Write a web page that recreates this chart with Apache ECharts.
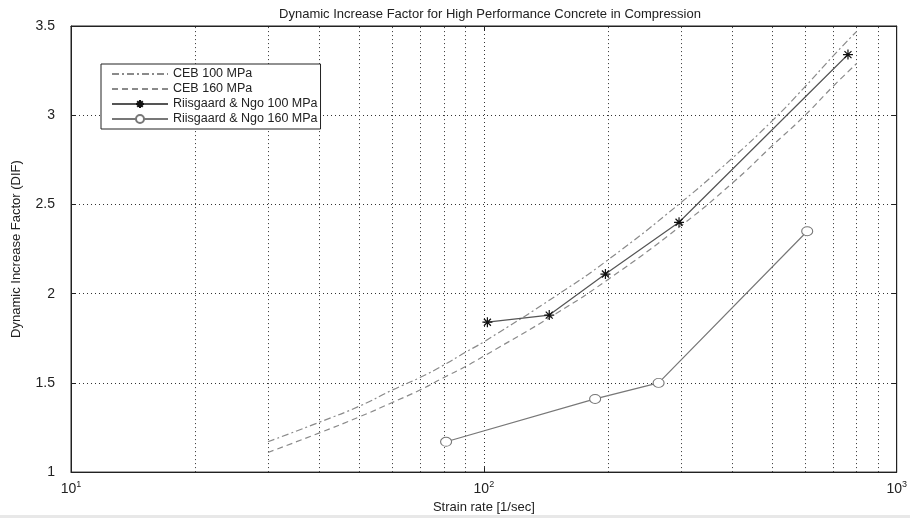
<!DOCTYPE html>
<html>
<head>
<meta charset="utf-8">
<script src="https://cdn.jsdelivr.net/npm/echarts@6/dist/echarts.min.js"></script>
<style>
  html, body { margin: 0; padding: 0; background: #fff; }
  #main { width: 910px; height: 519px; }
</style>
</head>
<body>
<div id="main"></div>
<script>
const titleText = "Dynamic Increase Factor for High Performance Concrete in Compression";
const seriesNames = ["CEB 100 MPa", "CEB 160 MPa", "Riisgaard & Ngo 100 MPa", "Riisgaard & Ngo 160 MPa"];

// CEB curves
const cebRates = [30, 40, 50, 60, 70, 80, 90, 100, 150, 200, 300, 400, 500, 600, 700, 800];
const ceb100 = [1.17, 1.28, 1.37, 1.46, 1.53, 1.60, 1.67, 1.73, 1.99, 2.19, 2.51, 2.76, 2.97, 3.16, 3.33, 3.47];
const ceb160 = [1.11, 1.22, 1.31, 1.39, 1.46, 1.53, 1.59, 1.65, 1.89, 2.08, 2.38, 2.62, 2.83, 3.00, 3.16, 3.29];

// test results
const rn100Rates = [102, 144, 197, 297, 762];
const rn100 = [1.84, 1.88, 2.11, 2.40, 3.34];
const rn160Rates = [81, 186, 265, 607];
const rn160 = [1.17, 1.41, 1.50, 2.35];

// minor vertical grid lines of the log axis
const minorRates = [20, 30, 40, 50, 60, 70, 80, 90, 200, 300, 400, 500, 600, 700, 800, 900];

function pairs(xs, ys) {
  return xs.map((x, i) => [x, ys[i]]);
}

const starPath = "path://M5,0L5,10M0,5L10,5M1.5,1.5L8.5,8.5M8.5,1.5L1.5,8.5";
const font = "Liberation Sans";
const dotted = { type: [1, 3], color: "#333", width: 1 };

function chartOption() {
  return {
    animation: false,
    backgroundColor: "#fff",
    textStyle: { fontFamily: font },
    title: {
      text: titleText,
      left: 485,
      textAlign: "center",
      top: 3,
      textStyle: { fontSize: 13, fontWeight: "normal", color: "#222", fontFamily: font },
    },
    grid: {
      left: 71, right: 11, top: 26, bottom: 39,
      show: true, borderColor: "#222", borderWidth: 1,
    },
    legend: {
      orient: "vertical",
      left: 101,
      top: 64,
      data: [
        { name: seriesNames[0], itemStyle: { opacity: 0 } },
        { name: seriesNames[1], itemStyle: { opacity: 0 } },
        { name: seriesNames[2] },
        { name: seriesNames[3] },
      ],
      itemWidth: 56,
      itemHeight: 10,
      itemGap: 1,
      padding: [3, 3, 3, 10],
      borderColor: "#222",
      borderWidth: 1,
      backgroundColor: "#fff",
      textStyle: { fontSize: 12.5, color: "#222", fontFamily: font, lineHeight: 14 },
    },
    xAxis: [
      {
        type: "log",
        logBase: 10,
        min: 10,
        max: 1000,
        name: "Strain rate [1/sec]",
        nameLocation: "middle",
        nameGap: 27,
        nameTextStyle: { fontSize: 13, color: "#222", fontFamily: font },
        axisLine: { lineStyle: { color: "#222" } },
        axisTick: { inside: true, length: 5, lineStyle: { color: "#222" } },
        axisLabel: {
          margin: 8,
          color: "#222",
          formatter: (v) => "{b|10}{e|" + Math.round(Math.log10(v)) + "}",
          rich: {
            b: { fontSize: 14, color: "#222", fontFamily: font },
            e: { fontSize: 9, color: "#222", fontFamily: font, padding: [0, 0, 9, 0] },
          },
        },
        splitLine: { show: true, lineStyle: dotted },
      },
      {
        type: "log",
        logBase: 10,
        min: 10,
        max: 1000,
        position: "top",
        axisLine: { lineStyle: { color: "#222" } },
        axisTick: { inside: true, length: 5, lineStyle: { color: "#222" } },
        axisLabel: { show: false },
        splitLine: { show: false },
      },
    ],
    yAxis: [
      {
        type: "value",
        min: 1,
        max: 3.5,
        interval: 0.5,
        name: "Dynamic Increase Factor (DIF)",
        nameLocation: "middle",
        nameGap: 48,
        nameTextStyle: { fontSize: 13, color: "#222", fontFamily: font },
        axisLine: { show: true, lineStyle: { color: "#222" } },
        axisTick: { show: true, inside: true, length: 5, lineStyle: { color: "#222" } },
        axisLabel: { fontSize: 14, color: "#222", margin: 16, fontFamily: font },
        splitLine: { show: true, lineStyle: dotted },
      },
      {
        type: "value",
        min: 1,
        max: 3.5,
        interval: 0.5,
        position: "right",
        axisLine: { show: true, lineStyle: { color: "#222" } },
        axisTick: { show: true, inside: true, length: 5, lineStyle: { color: "#222" } },
        axisLabel: { show: false },
        splitLine: { show: false },
      },
    ],
    series: [
      {
        name: seriesNames[0],
        type: "line",
        data: pairs(cebRates, ceb100),
        smooth: true,
        symbol: "none",
        lineStyle: { color: "#8a8a8a", width: 1.2, type: [7, 3, 2, 3] },
        itemStyle: { color: "#8a8a8a" },
        z: 3,
        markLine: {
          silent: true,
          symbol: ["none", "none"],
          label: { show: false },
          lineStyle: dotted,
          data: minorRates.map((v) => ({ xAxis: v })),
          z: 1,
        },
      },
      {
        name: seriesNames[1],
        type: "line",
        data: pairs(cebRates, ceb160),
        smooth: true,
        symbol: "none",
        lineStyle: { color: "#8a8a8a", width: 1.2, type: [6, 4] },
        itemStyle: { color: "#8a8a8a" },
        z: 3,
      },
      {
        name: seriesNames[2],
        type: "line",
        data: pairs(rn100Rates, rn100),
        symbol: starPath,
        symbolSize: 10,
        lineStyle: { color: "#555", width: 1.2 },
        itemStyle: { color: "none", borderColor: "#111", borderWidth: 1.2 },
        z: 4,
      },
      {
        name: seriesNames[3],
        type: "line",
        data: pairs(rn160Rates, rn160),
        symbol: "circle",
        symbolSize: [11, 9],
        lineStyle: { color: "#777", width: 1.2 },
        itemStyle: { color: "#fff", borderColor: "#777", borderWidth: 1 },
        z: 4,
      },
    ],
    graphic: [
      { type: "rect", left: 0, top: 515, shape: { width: 910, height: 3 }, style: { fill: "#e8e8e8" }, silent: true },
    ],
  };
}

addEventListener("load", () => {
  const chart = echarts.init(document.getElementById("main"));
  chart.setOption(chartOption());
});
</script>
</body>
</html>
